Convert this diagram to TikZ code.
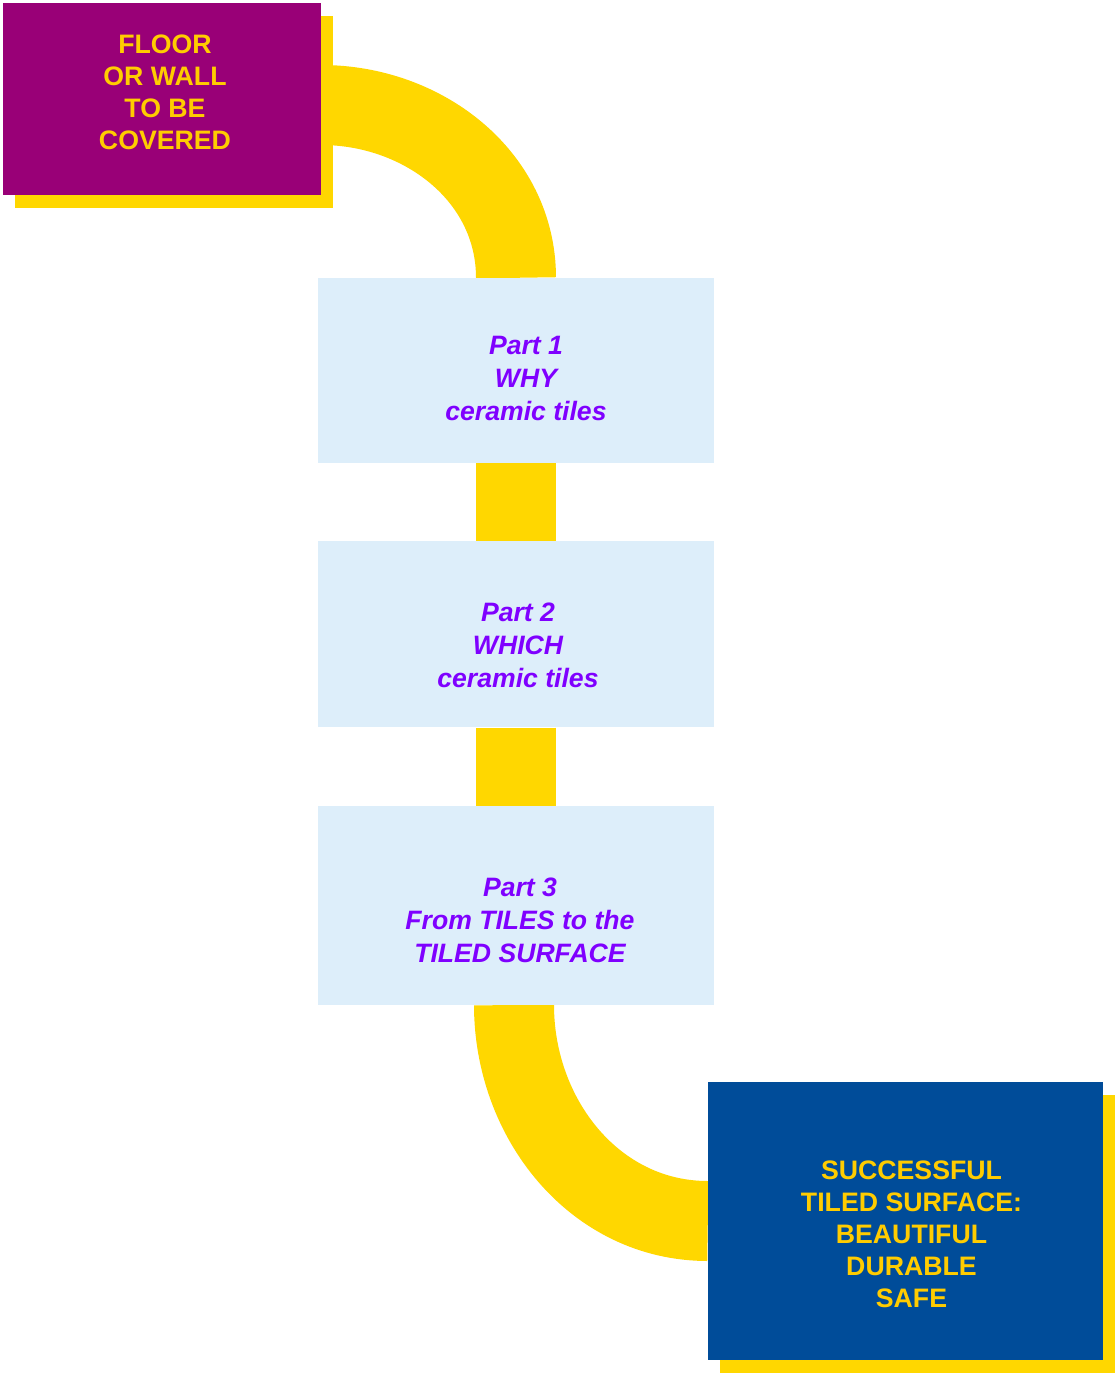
\documentclass[tikz,border=0pt]{standalone}
\usepackage{fontspec}
\setmainfont{Liberation Sans}
\usepackage{xcolor}
\usepackage{tikz}
\usetikzlibrary{positioning, shadows, backgrounds}
\definecolor{floorpurple}{RGB}{153, 0, 119}
\definecolor{bandyellow}{RGB}{255, 215, 0}
\definecolor{textgold}{RGB}{255, 204, 0}
\definecolor{partblue}{RGB}{221, 238, 250}
\definecolor{partviolet}{RGB}{127, 0, 255}
\definecolor{resultblue}{RGB}{0, 76, 153}

\begin{document}
\begin{tikzpicture}[
    x=1pt, y=1pt,
    every node/.style={align=center, inner sep=0pt},
    endblock/.style={rectangle, drop shadow={shadow xshift=12pt, shadow yshift=-13pt, fill=bandyellow, opacity=1}},
    endtext/.style={text=textgold, font=\fontsize{26.7}{32}\selectfont\bfseries},
    partblock/.style={rectangle, fill=partblue, minimum width=396pt},
    parttext/.style={text=partviolet, font=\fontsize{26.6}{33}\selectfont\bfseries\itshape},
    band/.style={draw=bandyellow, line width=80pt},
]
\useasboundingbox (0,0) rectangle (1117,-1374);

% ── Start ──
\node[endblock, fill=floorpurple, minimum width=318pt, minimum height=192pt] (floor) at (162,-99) {};
\node[endtext] (floortext) at ([xshift=3pt, yshift=7pt]floor.center) {FLOOR\\OR WALL\\TO BE\\COVERED};

% ── Parts ──
\node[partblock, minimum height=185pt] (part1) at (516,-370.5) {};
\node[partblock, minimum height=186pt, below=78pt of part1] (part2) {};
\node[partblock, minimum height=199pt, below=78pt of part2] (part3) {};
\node[parttext] (part1text) at ([xshift=10pt, yshift=-8pt]part1.center) {Part 1\\WHY\\ceramic tiles};
\node[parttext] (part2text) at ([xshift=2pt, yshift=-11pt]part2.center) {Part 2\\WHICH\\ceramic tiles};
\node[parttext] (part3text) at ([xshift=4pt, yshift=-15pt]part3.center) {Part 3\\From TILES to the\\TILED SURFACE};

% ── Result ──
\node[endblock, fill=resultblue, minimum width=395pt, minimum height=278pt] (result) at (905.5,-1221) {};
\node[endtext] (resulttext) at ([xshift=6pt, yshift=-13pt]result.center) {SUCCESSFUL\\TILED SURFACE:\\BEAUTIFUL\\DURABLE\\SAFE};

% ── Bands ──
\begin{scope}[on background layer]
\draw[band] ([yshift=-6pt]floor.east) to[out=0, in=90] (part1.north);
\draw[band] (part1) -- (part2);
\draw[band] (part2) -- (part3);
\draw[band] ([xshift=-2pt]part3.south) to[out=-90, in=180] (result.west);
\end{scope}

\end{tikzpicture}
\end{document}
